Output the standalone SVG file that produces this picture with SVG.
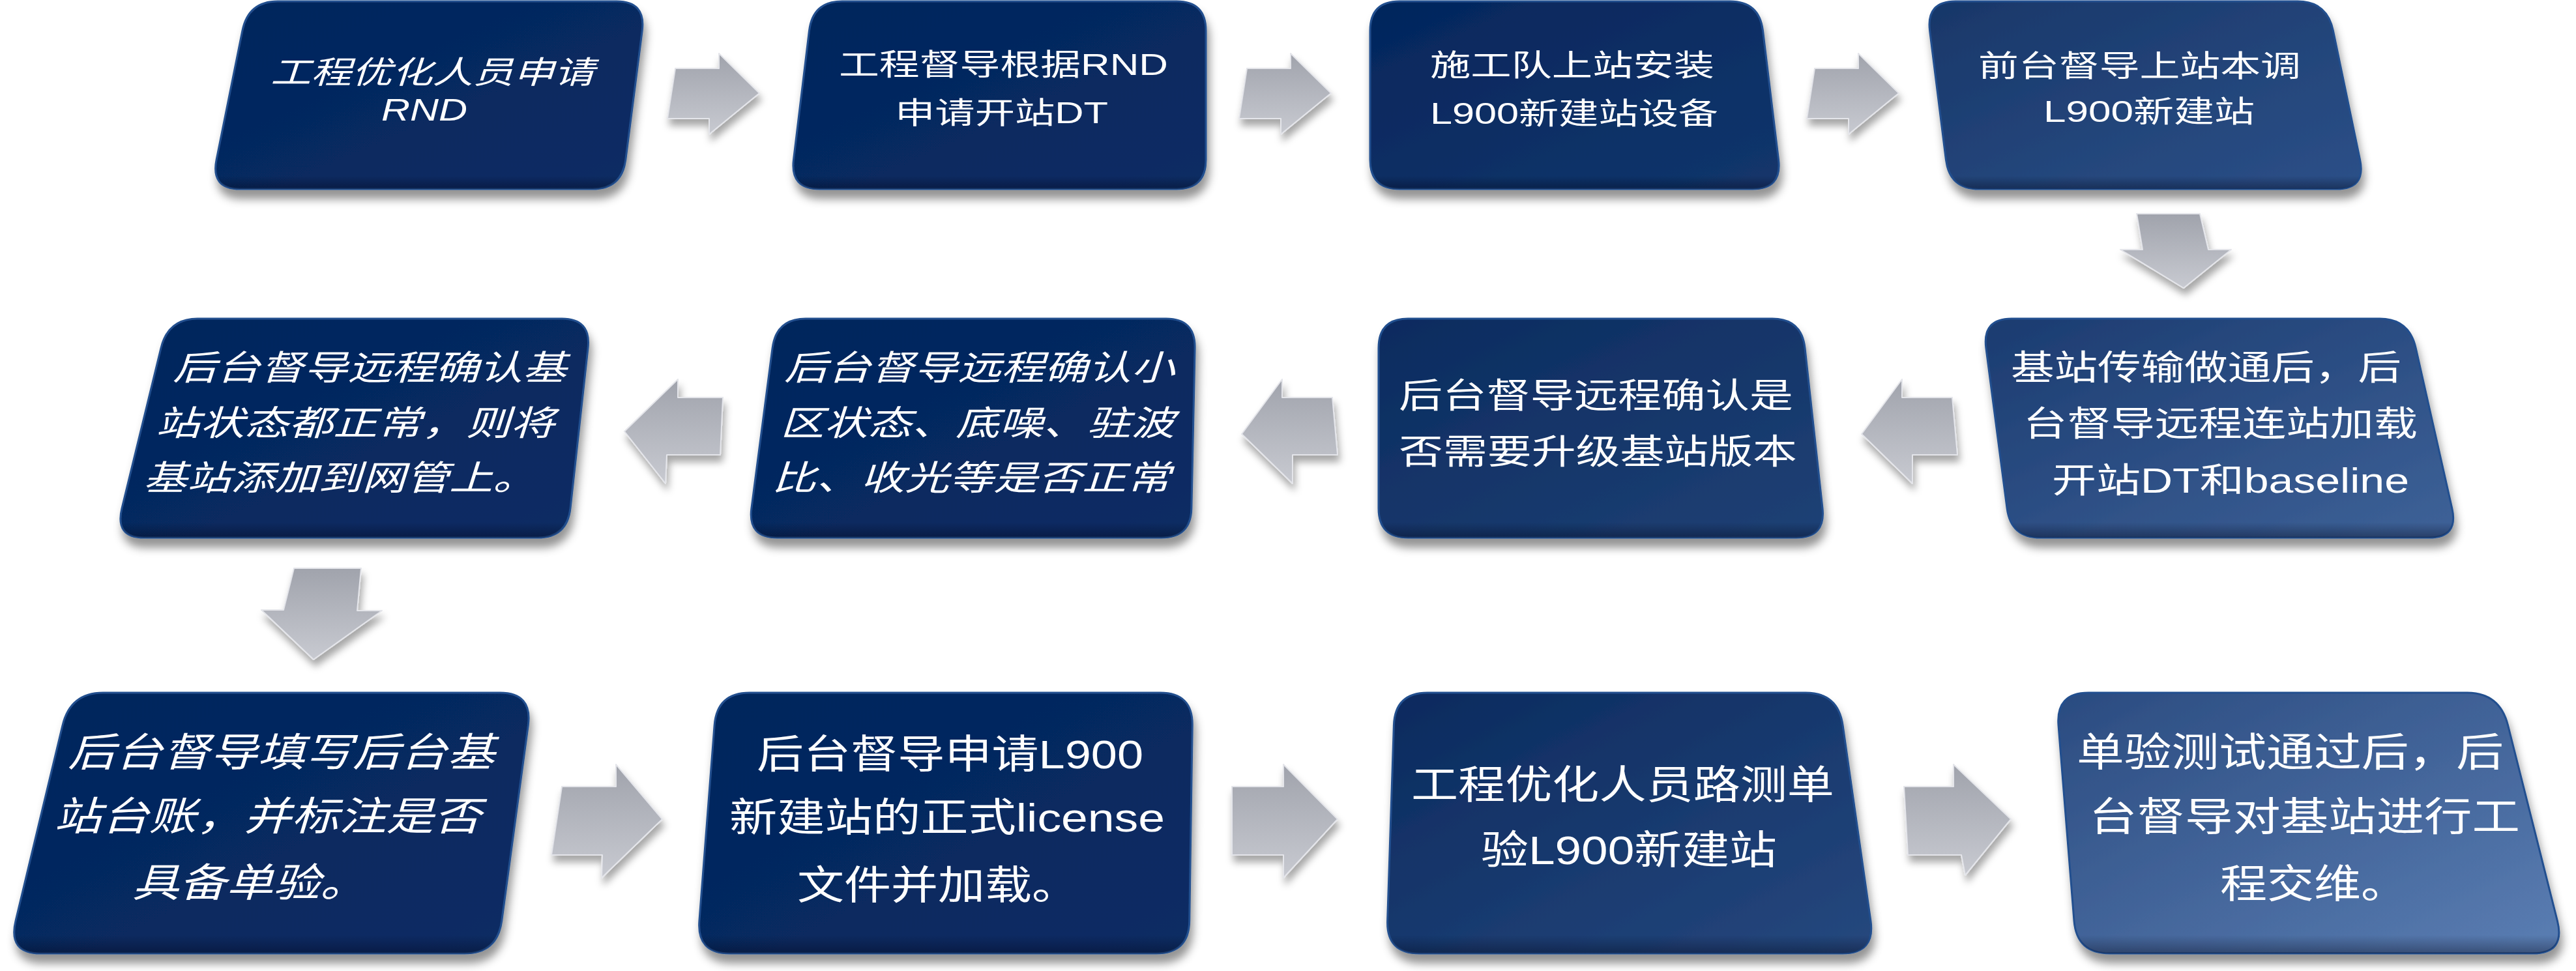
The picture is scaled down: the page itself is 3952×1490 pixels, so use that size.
<svg xmlns="http://www.w3.org/2000/svg" width="3952" height="1490" viewBox="0 0 3952 1490">
<defs>
<style>
.box{stroke:#24508f;stroke-width:3}
.ov{fill:url(#shade);stroke:none}
.t{font-family:"Liberation Sans","Noto Sans CJK SC",sans-serif;fill:#ffffff}
.r1{font-size:46px}
.r2{font-size:53px}
.r3{font-size:61px}
.it{font-style:italic}
.arr{fill:url(#arrG);stroke:#e4e5ea;stroke-width:2;stroke-linejoin:round;filter:url(#ash)}
</style>
<filter id="sh" x="-10%" y="-10%" width="125%" height="135%">
<feDropShadow dx="4" dy="14" stdDeviation="7" flood-color="#000" flood-opacity="0.42"/>
</filter>
<filter id="ash" x="-20%" y="-20%" width="150%" height="160%">
<feDropShadow dx="3" dy="10" stdDeviation="6" flood-color="#000" flood-opacity="0.35"/>
</filter>
<linearGradient id="shade" x1="0" y1="0" x2="0" y2="1">
<stop offset="0" stop-color="#ffffff" stop-opacity="0"/>
<stop offset="0.93" stop-color="#000010" stop-opacity="0"/>
<stop offset="1" stop-color="#000010" stop-opacity="0.35"/>
</linearGradient>
<linearGradient id="gN" x1="0" y1="0" x2="1" y2="1">
<stop offset="0" stop-color="#03255c"/><stop offset="1" stop-color="#0a2d64"/>
</linearGradient>
<linearGradient id="g3" x1="0" y1="0" x2="1" y2="1">
<stop offset="0" stop-color="#04265c"/><stop offset="1" stop-color="#13366c"/>
</linearGradient>
<linearGradient id="g4" x1="0" y1="0" x2="1" y2="1">
<stop offset="0" stop-color="#183769"/><stop offset="1" stop-color="#2c5088"/>
</linearGradient>
<linearGradient id="g5" x1="0" y1="0" x2="1" y2="1">
<stop offset="0" stop-color="#1b3b70"/><stop offset="1" stop-color="#3e6298"/>
</linearGradient>
<linearGradient id="g6" x1="0" y1="0" x2="1" y2="1">
<stop offset="0" stop-color="#0b2b5f"/><stop offset="1" stop-color="#1f4175"/>
</linearGradient>
<linearGradient id="g11" x1="0" y1="0" x2="1" y2="1">
<stop offset="0" stop-color="#0a2a5e"/><stop offset="1" stop-color="#26487e"/>
</linearGradient>
<linearGradient id="g12" x1="0" y1="0" x2="1" y2="1">
<stop offset="0" stop-color="#2a4b80"/><stop offset="1" stop-color="#5b7eb3"/>
</linearGradient>
<linearGradient id="arrG" x1="0" y1="0" x2="0" y2="1">
<stop offset="0" stop-color="#a0a3ac"/><stop offset="1" stop-color="#c8cad1"/>
</linearGradient>
</defs>
<rect x="0" y="0" width="3952" height="1490" fill="#ffffff"/>

<g id="connectors">
<polygon class="arr" points="1036,105 1103,105 1103,82 1165,143 1088,206 1088,182 1024,182"/>
<polygon class="arr" points="1913,105 1980,105 1980,82 2042,143 1965,206 1965,182 1901,182"/>
<polygon class="arr" points="2784,105 2851,105 2851,82 2913,143 2836,206 2836,182 2772,182"/>
<polygon class="arr" points="3278,328 3375,328 3388,383 3423,383 3350,442 3253,383 3287,383"/>
<polygon class="arr" points="2856,666 2918,582 2918,610 2995,610 3003,698 2934,698 2934,742"/>
<polygon class="arr" points="1905,666 1967,582 1967,610 2044,610 2052,698 1983,698 1983,742"/>
<polygon class="arr" points="958,662 1040,582 1040,610 1109,610 1105,698 1023,698 1021,742"/>
<polygon class="arr" points="451,872 554,872 548,937 586,937 481,1012 401,936 435,936"/>
<polygon class="arr" points="862,1207 945,1207 945,1173 1016,1257 923,1347 924,1312 846,1312"/>
<polygon class="arr" points="1890,1207 1969,1207 1969,1173 2052,1257 1969,1347 1969,1312 1890,1312"/>
<polygon class="arr" points="2921,1207 2997,1207 2997,1173 3085,1257 3015,1343 3009,1312 2927,1312"/>
</g>

<g id="node-1">
<path class="box" filter="url(#sh)" fill="url(#gN)" d="M426,2 L946,2 Q991,2 985.2,47 L959.8,245 Q954,290 909,290 L368,290 Q323,290 332.1,245 L371.9,47 Q381,2 426,2 Z"/>
<path class="ov" d="M426,2 L946,2 Q991,2 985.2,47 L959.8,245 Q954,290 909,290 L368,290 Q323,290 332.1,245 L371.9,47 Q381,2 426,2 Z"/>
<text class="t r1 it" style="font-size:48px" x="415" y="128" textLength="497" lengthAdjust="spacingAndGlyphs">工程优化人员申请</text>
<text class="t r1 it" style="font-size:48px" x="585" y="185" textLength="132" lengthAdjust="spacingAndGlyphs">RND</text>
</g>

<g id="node-2">
<path class="box" filter="url(#sh)" fill="url(#gN)" d="M1292,2 L1805,2 Q1850,2 1850,47 L1850,245 Q1850,290 1805,290 L1257,290 Q1212,290 1217.5,245 L1241.5,47 Q1247,2 1292,2 Z"/>
<path class="ov" d="M1292,2 L1805,2 Q1850,2 1850,47 L1850,245 Q1850,290 1805,290 L1257,290 Q1212,290 1217.5,245 L1241.5,47 Q1247,2 1292,2 Z"/>
<text class="t r1" x="1287" y="115" textLength="505" lengthAdjust="spacingAndGlyphs">工程督导根据RND</text>
<text class="t r1" x="1373" y="189" textLength="327" lengthAdjust="spacingAndGlyphs">申请开站DT</text>
</g>

<g id="node-3">
<path class="box" filter="url(#sh)" fill="url(#g3)" d="M2147,2 L2654,2 Q2699,2 2704.5,47 L2728.5,245 Q2734,290 2689,290 L2147,290 Q2102,290 2102,245 L2102,47 Q2102,2 2147,2 Z"/>
<path class="ov" d="M2147,2 L2654,2 Q2699,2 2704.5,47 L2728.5,245 Q2734,290 2689,290 L2147,290 Q2102,290 2102,245 L2102,47 Q2102,2 2147,2 Z"/>
<text class="t r1" x="2194" y="116" textLength="436" lengthAdjust="spacingAndGlyphs">施工队上站安装</text>
<text class="t r1" x="2194" y="190" textLength="442" lengthAdjust="spacingAndGlyphs">L900新建站设备</text>
</g>

<g id="node-4">
<path class="box" filter="url(#sh)" fill="url(#g4)" d="M3000,2 L3525,2 Q3570,2 3579.4,47 L3620.6,245 Q3630,290 3585,290 L3036,290 Q2991,290 2985.4,245 L2960.6,47 Q2955,2 3000,2 Z"/>
<path class="ov" d="M3000,2 L3525,2 Q3570,2 3579.4,47 L3620.6,245 Q3630,290 3585,290 L3036,290 Q2991,290 2985.4,245 L2960.6,47 Q2955,2 3000,2 Z"/>
<text class="t r1" x="3035" y="117" textLength="495" lengthAdjust="spacingAndGlyphs">前台督导上站本调</text>
<text class="t r1" x="3135" y="187" textLength="324" lengthAdjust="spacingAndGlyphs">L900新建站</text>
</g>

<g id="node-5">
<path class="box" filter="url(#sh)" fill="url(#g5)" d="M3086,489 L3651,489 Q3696,489 3706.2,534 L3761.8,780 Q3772,825 3727,825 L3130,825 Q3085,825 3079.1,780 L3046.9,534 Q3041,489 3086,489 Z"/>
<path class="ov" d="M3086,489 L3651,489 Q3696,489 3706.2,534 L3761.8,780 Q3772,825 3727,825 L3130,825 Q3085,825 3079.1,780 L3046.9,534 Q3041,489 3086,489 Z"/>
<text class="t r2" x="3085" y="583" textLength="599" lengthAdjust="spacingAndGlyphs">基站传输做通后，后</text>
<text class="t r2" x="3104" y="669" textLength="605" lengthAdjust="spacingAndGlyphs">台督导远程连站加载</text>
<text class="t r2" x="3148" y="756" textLength="548" lengthAdjust="spacingAndGlyphs">开站DT和baseline</text>
</g>

<g id="node-6">
<path class="box" filter="url(#sh)" fill="url(#g6)" d="M2160,489 L2719,489 Q2764,489 2769,534 L2796,780 Q2801,825 2756,825 L2160,825 Q2115,825 2115,780 L2115,534 Q2115,489 2160,489 Z"/>
<path class="ov" d="M2160,489 L2719,489 Q2764,489 2769,534 L2796,780 Q2801,825 2756,825 L2160,825 Q2115,825 2115,780 L2115,534 Q2115,489 2160,489 Z"/>
<text class="t r2" x="2146" y="626" textLength="605" lengthAdjust="spacingAndGlyphs">后台督导远程确认是</text>
<text class="t r2" x="2146" y="712" textLength="611" lengthAdjust="spacingAndGlyphs">否需要升级基站版本</text>
</g>

<g id="node-7">
<path class="box" filter="url(#sh)" fill="url(#gN)" d="M1236,489 L1789,489 Q1834,489 1833.1,534 L1827.9,780 Q1827,825 1782,825 L1192,825 Q1147,825 1152.9,780 L1185.1,534 Q1191,489 1236,489 Z"/>
<path class="ov" d="M1236,489 L1789,489 Q1834,489 1833.1,534 L1827.9,780 Q1827,825 1782,825 L1192,825 Q1147,825 1152.9,780 L1185.1,534 Q1191,489 1236,489 Z"/>
<text class="t r2 it" x="1203" y="583" textLength="599" lengthAdjust="spacingAndGlyphs">后台督导远程确认小</text>
<text class="t r2 it" x="1197" y="668" textLength="605" lengthAdjust="spacingAndGlyphs">区状态、底噪、驻波</text>
<text class="t r2 it" x="1184" y="752" textLength="612" lengthAdjust="spacingAndGlyphs">比、收光等是否正常</text>
</g>

<g id="node-8">
<path class="box" filter="url(#sh)" fill="url(#gN)" d="M303,489 L862,489 Q907,489 902,534 L875,780 Q870,825 825,825 L221,825 Q176,825 187,780 L247,534 Q258,489 303,489 Z"/>
<path class="ov" d="M303,489 L862,489 Q907,489 902,534 L875,780 Q870,825 825,825 L221,825 Q176,825 187,780 L247,534 Q258,489 303,489 Z"/>
<text class="t r2 it" x="265" y="583" textLength="604" lengthAdjust="spacingAndGlyphs">后台督导远程确认基</text>
<text class="t r2 it" x="239" y="668" textLength="612" lengthAdjust="spacingAndGlyphs">站状态都正常，则将</text>
<text class="t r2 it" x="220" y="752" textLength="603" lengthAdjust="spacingAndGlyphs">基站添加到网管上。</text>
</g>

<g id="node-9">
<path class="box" filter="url(#sh)" fill="url(#gN)" d="M158,1063 L767,1063 Q817,1063 810.25,1113 L769.75,1413 Q763,1463 713,1463 L62,1463 Q12,1463 24,1413 L96,1113 Q108,1063 158,1063 Z"/>
<path class="ov" d="M158,1063 L767,1063 Q817,1063 810.25,1113 L769.75,1413 Q763,1463 713,1463 L62,1463 Q12,1463 24,1413 L96,1113 Q108,1063 158,1063 Z"/>
<text class="t r3 it" x="104" y="1176" textLength="655" lengthAdjust="spacingAndGlyphs">后台督导填写后台基</text>
<text class="t r3 it" x="83" y="1274" textLength="655" lengthAdjust="spacingAndGlyphs">站台账，并标注是否</text>
<text class="t r3 it" x="203" y="1376" textLength="360" lengthAdjust="spacingAndGlyphs">具备单验。</text>
</g>

<g id="node-10">
<path class="box" filter="url(#sh)" fill="url(#gN)" d="M1150,1063 L1780,1063 Q1830,1063 1829.25,1113 L1824.75,1413 Q1824,1463 1774,1463 L1119,1463 Q1069,1463 1072.9,1413 L1096.1,1113 Q1100,1063 1150,1063 Z"/>
<path class="ov" d="M1150,1063 L1780,1063 Q1830,1063 1829.25,1113 L1824.75,1413 Q1824,1463 1774,1463 L1119,1463 Q1069,1463 1072.9,1413 L1096.1,1113 Q1100,1063 1150,1063 Z"/>
<text class="t r3" x="1161" y="1179" textLength="593" lengthAdjust="spacingAndGlyphs">后台督导申请L900</text>
<text class="t r3" x="1119" y="1276" textLength="668" lengthAdjust="spacingAndGlyphs">新建站的正式license</text>
<text class="t r3" x="1223" y="1380" textLength="432" lengthAdjust="spacingAndGlyphs">文件并加载。</text>
</g>

<g id="node-11">
<path class="box" filter="url(#sh)" fill="url(#g11)" d="M2190,1063 L2770,1063 Q2820,1063 2827.1,1113 L2869.9,1413 Q2877,1463 2827,1463 L2177,1463 Q2127,1463 2128.6,1413 L2138.4,1113 Q2140,1063 2190,1063 Z"/>
<path class="ov" d="M2190,1063 L2770,1063 Q2820,1063 2827.1,1113 L2869.9,1413 Q2877,1463 2827,1463 L2177,1463 Q2127,1463 2128.6,1413 L2138.4,1113 Q2140,1063 2190,1063 Z"/>
<text class="t r3" x="2165" y="1226" textLength="649" lengthAdjust="spacingAndGlyphs">工程优化人员路测单</text>
<text class="t r3" x="2272" y="1326" textLength="454" lengthAdjust="spacingAndGlyphs">验L900新建站</text>
</g>

<g id="node-12">
<path class="box" filter="url(#sh)" fill="url(#g12)" d="M3204,1063 L3785,1063 Q3835,1063 3847.6,1113 L3923.4,1413 Q3936,1463 3886,1463 L3236,1463 Q3186,1463 3182,1413 L3158,1113 Q3154,1063 3204,1063 Z"/>
<path class="ov" d="M3204,1063 L3785,1063 Q3835,1063 3847.6,1113 L3923.4,1413 Q3936,1463 3886,1463 L3236,1463 Q3186,1463 3182,1413 L3158,1113 Q3154,1063 3204,1063 Z"/>
<text class="t r3" x="3186" y="1176" textLength="655" lengthAdjust="spacingAndGlyphs">单验测试通过后，后</text>
<text class="t r3" x="3205" y="1275" textLength="661" lengthAdjust="spacingAndGlyphs">台督导对基站进行工</text>
<text class="t r3" x="3406" y="1378" textLength="288" lengthAdjust="spacingAndGlyphs">程交维。</text>
</g>
</svg>
